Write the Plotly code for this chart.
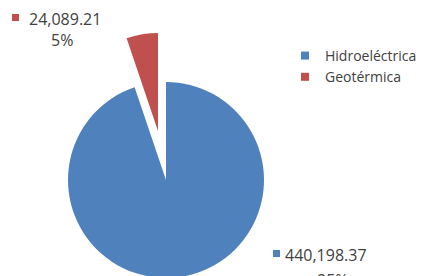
import plotly.graph_objects as go

labels = ["Hidroeléctrica", "Geotérmica"]
values = [440198.37, 24089.21]
colors = ["#4F81BD", "#C0504D"]

W, H = 426, 276
# the page body adds an 8px margin before the figure; layout positions below are
# given in page pixels and converted to paper fractions of the figure.
OFF = 8
total = sum(values)
pcts = [round(v / total * 100) for v in values]
value_texts = [f"{v:,.2f}" for v in values]
pct_texts = [f"{p}%" for p in pcts]

TXT = "#404040"
FONT = "Open Sans"
CLEAR = "rgba(0,0,0,0)"


def px(x):
    return (x - OFF) / W


def py(y):
    return 1 - (y - OFF) / H


R = 98
CX, CY = 166, 180      # centre of the main pie (page px)
EX, EY = 158, 131      # centre of the exploded slice (page px)

fig = go.Figure()

# main pie (Hidroeléctrica visible)
fig.add_trace(go.Pie(
    labels=labels, values=values, sort=False, direction="clockwise", rotation=0,
    marker=dict(colors=[colors[0], CLEAR], line=dict(width=0)),
    textinfo="none", hoverinfo="label+value+percent", showlegend=False,
    domain=dict(x=[px(CX - R), px(CX + R)], y=[py(CY + R), py(CY - R)]),
))
# exploded slice (Geotérmica visible), pulled outward
fig.add_trace(go.Pie(
    labels=labels, values=values, sort=False, direction="clockwise", rotation=0,
    marker=dict(colors=[CLEAR, colors[1]], line=dict(width=0)),
    textinfo="none", hoverinfo="label+value+percent", showlegend=False,
    domain=dict(x=[px(EX - R), px(EX + R)], y=[py(EY + R), py(EY - R)]),
))

# legend entries
for lab, col in zip(labels, colors):
    fig.add_trace(go.Scatter(
        x=[None], y=[None], mode="markers", name=lab,
        marker=dict(symbol="square", size=8, color=col),
    ))

# data labels
label_pos = {
    1: dict(sq=(12, 14), num=(27, 19), pct=(62, 40)),
    0: dict(sq=(273, 250), num=(283, 255), pct=(333, 280)),
}
shapes = []
annotations = []
for i, pos in label_pos.items():
    sx, sy = pos["sq"]
    shapes.append(dict(type="rect", xref="paper", yref="paper",
                       x0=px(sx), x1=px(sx + 7), y0=py(sy + 7), y1=py(sy),
                       fillcolor=colors[i], line=dict(width=0)))
    nx, ny = pos["num"]
    annotations.append(dict(text=value_texts[i], xref="paper", yref="paper",
                            x=px(nx), y=py(ny), xanchor="left", yanchor="middle",
                            showarrow=False, font=dict(family=FONT, size=16, color=TXT)))
    cx, cy = pos["pct"]
    annotations.append(dict(text=pct_texts[i], xref="paper", yref="paper",
                            x=px(cx), y=py(cy), xanchor="center", yanchor="middle",
                            showarrow=False, font=dict(family=FONT, size=16, color=TXT)))

fig.update_layout(
    width=W, height=H,
    margin=dict(l=0, r=0, t=0, b=0),
    paper_bgcolor="white", plot_bgcolor="white",
    xaxis=dict(visible=False), yaxis=dict(visible=False),
    showlegend=True,
    legend=dict(x=px(285), y=py(40), xanchor="left", yanchor="top",
                font=dict(family=FONT, size=14, color=TXT),
                bgcolor="rgba(0,0,0,0)", tracegroupgap=0, itemwidth=30),
    shapes=shapes, annotations=annotations,
)

fig.write_html("out.html")
